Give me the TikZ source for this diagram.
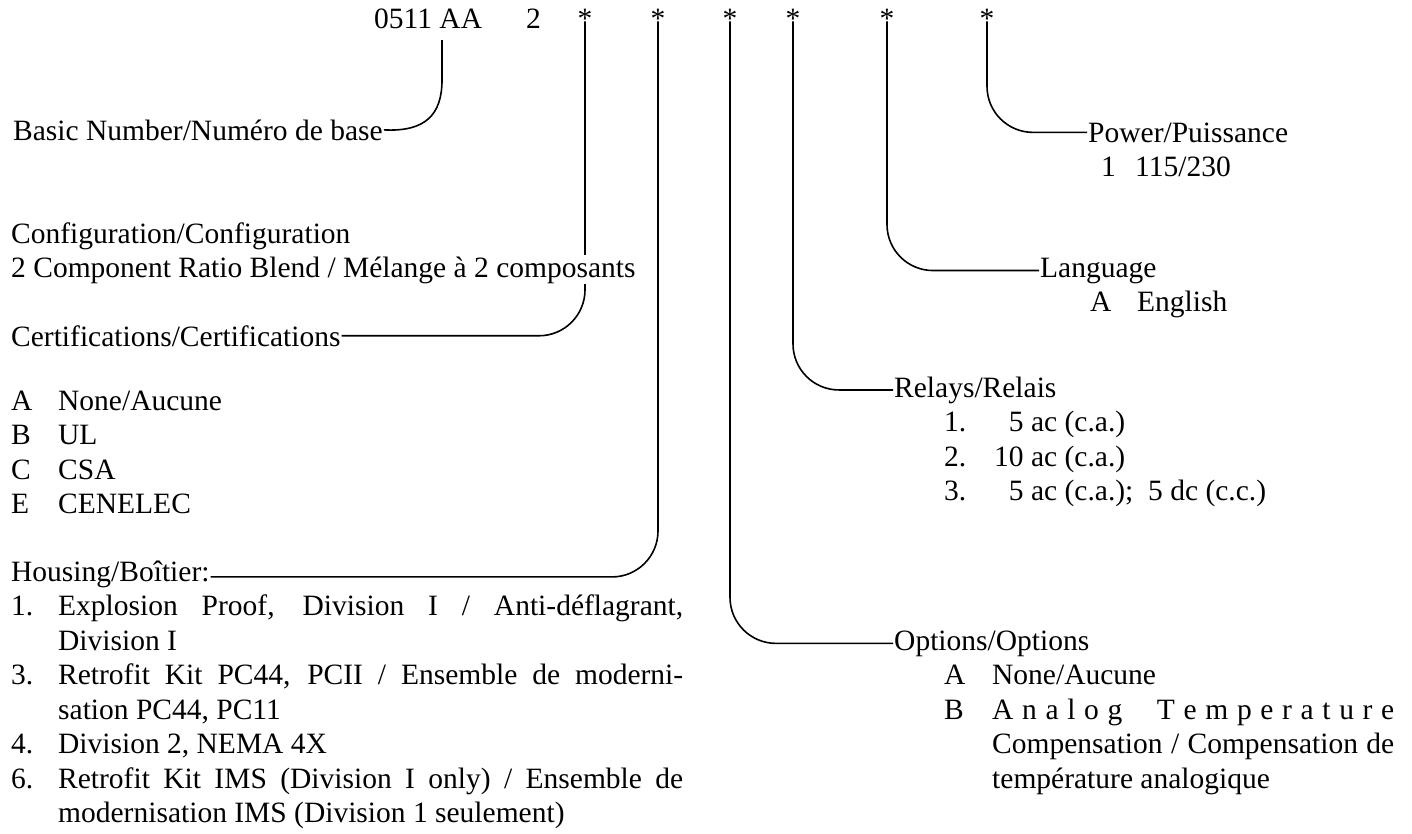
\documentclass[tikz,border=0pt]{standalone}
\usepackage{fontspec}
\setmainfont{Liberation Serif}
\usetikzlibrary{positioning}
\pgfdeclarelayer{back}
\pgfsetlayers{back,main}
\newcommand{\lbfont}{\fontsize{29.5pt}{34.5pt}\selectfont}
\tikzset{
  lbl/.style={anchor=base west, inner sep=1pt, font=\lbfont},
  code/.style={anchor=base, inner sep=1pt, font=\lbfont},
  masked/.style={fill=white},
  wire/.style={line width=1.6pt},
  lead/.style={wire, rounded corners=46pt},
}
\begin{document}
\begin{tikzpicture}[x=1pt,y=-1pt]
% Set the frame of the scan
\useasboundingbox (0,0) rectangle (1412,833);

% Code line on top
\node[lbl] (num) at (373,28) {0511 AA};
\node[lbl] (cfg) at (525,28) {2};
\node[code] (s1) at (585,28) {*};
\node[code] (s2) at (658,28) {*};
\node[code] (s3) at (730,28) {*};
\node[code] (s4) at (793,28) {*};
\node[code] (s5) at (887,28) {*};
\node[code] (s6) at (987,28) {*};
\coordinate (aa) at (442,40);

% Left column
\node[lbl] (basic) at (12,140) {Basic Number/Numéro de base};
\node[lbl] (config) at (10,243) {Configuration/Configuration};
\node[lbl, masked] (configtxt) at (10,277) {2 Component Ratio Blend / Mélange à 2 composants};
\node[lbl] (cert) at (10,346) {Certifications/Certifications};
\node[lbl] (certA) at (10,410) {\makebox[47pt][l]{A}None/Aucune};
\node[lbl] (certB) at (10,444.5) {\makebox[47pt][l]{B}UL};
\node[lbl] (certC) at (10,479) {\makebox[47pt][l]{C}CSA};
\node[lbl] (certE) at (10,513.5) {\makebox[47pt][l]{E}CENELEC};
\node[lbl] (housing) at (10,581) {Housing/Boîtier:};
\node[lbl] (house1) at (10,615.5) {\makebox[47pt][l]{1.}\makebox[625pt][s]{Explosion Proof, Division I / Anti-déflagrant,}};
\node[lbl] (house1b) at (57,650) {Division I};
\node[lbl] (house3) at (10,684.5) {\makebox[47pt][l]{3.}\makebox[625pt][s]{Retrofit Kit PC44, PCII / Ensemble de moderni-}};
\node[lbl] (house3b) at (57,719) {sation PC44, PC11};
\node[lbl] (house4) at (10,753.5) {\makebox[47pt][l]{4.}Division 2, NEMA 4X};
\node[lbl] (house6) at (10,788) {\makebox[47pt][l]{6.}\makebox[625pt][s]{Retrofit Kit IMS (Division I only) / Ensemble de}};
\node[lbl] (house6b) at (57,822.5) {modernisation IMS (Division 1 seulement)};

% Right column
\node[lbl] (power) at (1087,142) {Power/Puissance};
\node[lbl] (power1) at (1100,176) {\makebox[34pt][l]{1}115/230};
\node[lbl] (lang) at (1039,277) {Language};
\node[lbl] (langA) at (1089,311) {\makebox[47pt][l]{A}English};
\node[lbl] (relays) at (893,397) {Relays/Relais};
\node[lbl] (relay1) at (943,431.5) {\makebox[50pt][l]{1.}\phantom{1}5 ac (c.a.)};
\node[lbl] (relay2) at (943,466) {\makebox[50pt][l]{2.}10 ac (c.a.)};
\node[lbl] (relay3) at (943,500.5) {\makebox[50pt][l]{3.}\phantom{1}5 ac (c.a.);\enspace 5 dc (c.c.)};
\node[lbl] (options) at (893,650) {Options/Options};
\node[lbl] (optA) at (943,684.5) {\makebox[48pt][l]{A}None/Aucune};
\node[lbl] (optB) at (943,719) {\makebox[48pt][l]{B}\hbox to 402pt{A\hfil n\hfil a\hfil l\hfil o\hfil g\hfil\hfil\hfil\hfil T\hfil e\hfil m\hfil p\hfil e\hfil r\hfil a\hfil t\hfil u\hfil r\hfil e}};
\node[lbl] (optB2) at (991,753.5) {\makebox[402pt][s]{Compensation / Compensation de}};
\node[lbl] (optB3) at (991,788) {température analogique};

% Leader lines
\begin{pgfonlayer}{back}
\draw[wire] (aa) -- (442,80) .. controls (442,115) and (425,132) .. (basic.east);
\draw[lead] ([yshift=-3pt]s1.center) |- (cert.east);
\draw[lead] ([yshift=-3pt]s2.center) |- ([yshift=-3pt]housing.east);
\draw[lead] ([yshift=-3pt]s3.center) |- (options.west);
\draw[lead] ([yshift=-3pt]s4.center) |- (relays.west);
\draw[lead] ([yshift=-3pt]s5.center) |- (lang.west);
\draw[lead] ([yshift=-3pt]s6.center) |- (power.west);
\end{pgfonlayer}
\end{tikzpicture}
\end{document}
